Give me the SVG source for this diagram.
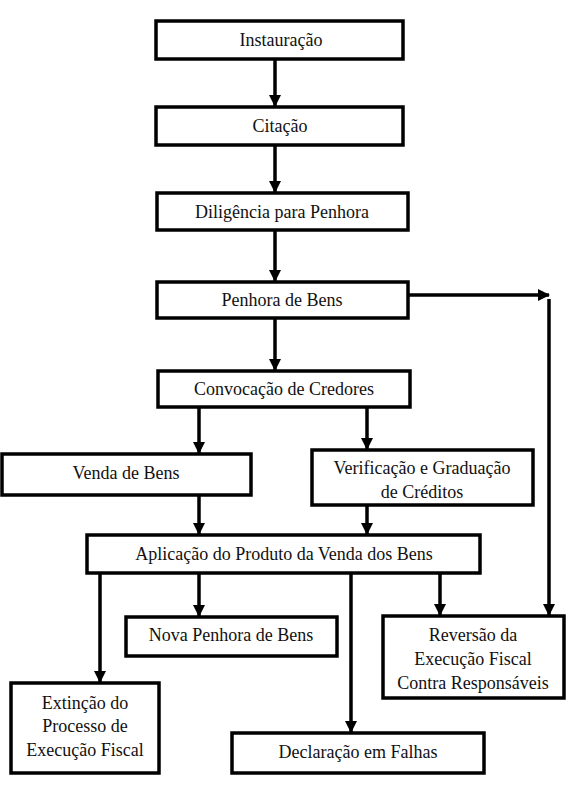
<svg xmlns="http://www.w3.org/2000/svg" width="570" height="797" viewBox="0 0 570 797">
<style>
.box{fill:#fff;stroke:#000;stroke-width:3.5}
.t{font-family:'Liberation Serif','Times New Roman',Tinos,'DejaVu Serif',serif;font-size:18px;fill:#111;text-anchor:middle}
.c{stroke:#000;stroke-width:3.5;fill:none}
</style>
<defs>
<marker id="ah" markerUnits="userSpaceOnUse" markerWidth="12" markerHeight="13" refX="11" refY="6" orient="auto">
<path d="M0,0 L12,6 L0,12 Z" fill="#000"/>
</marker>
</defs>
<rect width="570" height="797" fill="#fff"/>
<g id="connectors">
<line class="c" x1="275" y1="59" x2="275" y2="106" marker-end="url(#ah)"/>
<line class="c" x1="275" y1="145" x2="275" y2="192" marker-end="url(#ah)"/>
<line class="c" x1="275" y1="230" x2="275" y2="281" marker-end="url(#ah)"/>
<line class="c" x1="275" y1="318" x2="275" y2="370" marker-end="url(#ah)"/>
<line class="c" x1="408" y1="295" x2="549" y2="295" marker-end="url(#ah)"/>
<line class="c" x1="549" y1="299" x2="549" y2="615" marker-end="url(#ah)"/>
<line class="c" x1="199" y1="407" x2="199" y2="453" marker-end="url(#ah)"/>
<line class="c" x1="367" y1="407" x2="367" y2="449" marker-end="url(#ah)"/>
<line class="c" x1="199" y1="495" x2="199" y2="534" marker-end="url(#ah)"/>
<line class="c" x1="367" y1="505" x2="367" y2="534" marker-end="url(#ah)"/>
<line class="c" x1="100" y1="573" x2="100" y2="682" marker-end="url(#ah)"/>
<line class="c" x1="199" y1="573" x2="199" y2="616" marker-end="url(#ah)"/>
<line class="c" x1="351" y1="573" x2="351" y2="732" marker-end="url(#ah)"/>
<line class="c" x1="440" y1="573" x2="440" y2="615" marker-end="url(#ah)"/>
</g>
<g id="instauracao"><rect class="box" x="156" y="21" width="247" height="38"/><text class="t" x="281" y="46">Instauração</text></g>
<g id="citacao"><rect class="box" x="156" y="107" width="247" height="38"/><text class="t" x="280" y="132">Citação</text></g>
<g id="diligencia"><rect class="box" x="157" y="193" width="251" height="37"/><text class="t" x="282" y="218">Diligência para Penhora</text></g>
<g id="penhora"><rect class="box" x="157" y="282" width="251" height="36"/><text class="t" x="282" y="306">Penhora de Bens</text></g>
<g id="convocacao"><rect class="box" x="158" y="371" width="252" height="36"/><text class="t" x="284" y="395">Convocação de Credores</text></g>
<g id="venda"><rect class="box" x="2" y="454" width="249" height="41"/><text class="t" x="126" y="479">Venda de Bens</text></g>
<g id="verificacao"><rect class="box" x="312" y="450" width="221" height="55"/><text class="t" x="422" y="474">Verificação e Graduação</text><text class="t" x="422" y="498">de Créditos</text></g>
<g id="aplicacao"><rect class="box" x="87" y="535" width="393" height="38"/><text class="t" x="284" y="560">Aplicação do Produto da Venda dos Bens</text></g>
<g id="nova-penhora"><rect class="box" x="126" y="617" width="211" height="39"/><text class="t" x="231" y="641">Nova Penhora de Bens</text></g>
<g id="reversao"><rect class="box" x="383" y="616" width="181" height="82"/><text class="t" x="473" y="641">Reversão da</text><text class="t" x="473" y="665">Execução Fiscal</text><text class="t" x="473" y="689">Contra Responsáveis</text></g>
<g id="extincao"><rect class="box" x="11" y="683" width="148" height="90"/><text class="t" x="85" y="709">Extinção do</text><text class="t" x="85" y="732">Processo de</text><text class="t" x="85" y="756">Execução Fiscal</text></g>
<g id="declaracao"><rect class="box" x="232" y="733" width="252" height="40"/><text class="t" x="358" y="758">Declaração em Falhas</text></g>
</svg>
